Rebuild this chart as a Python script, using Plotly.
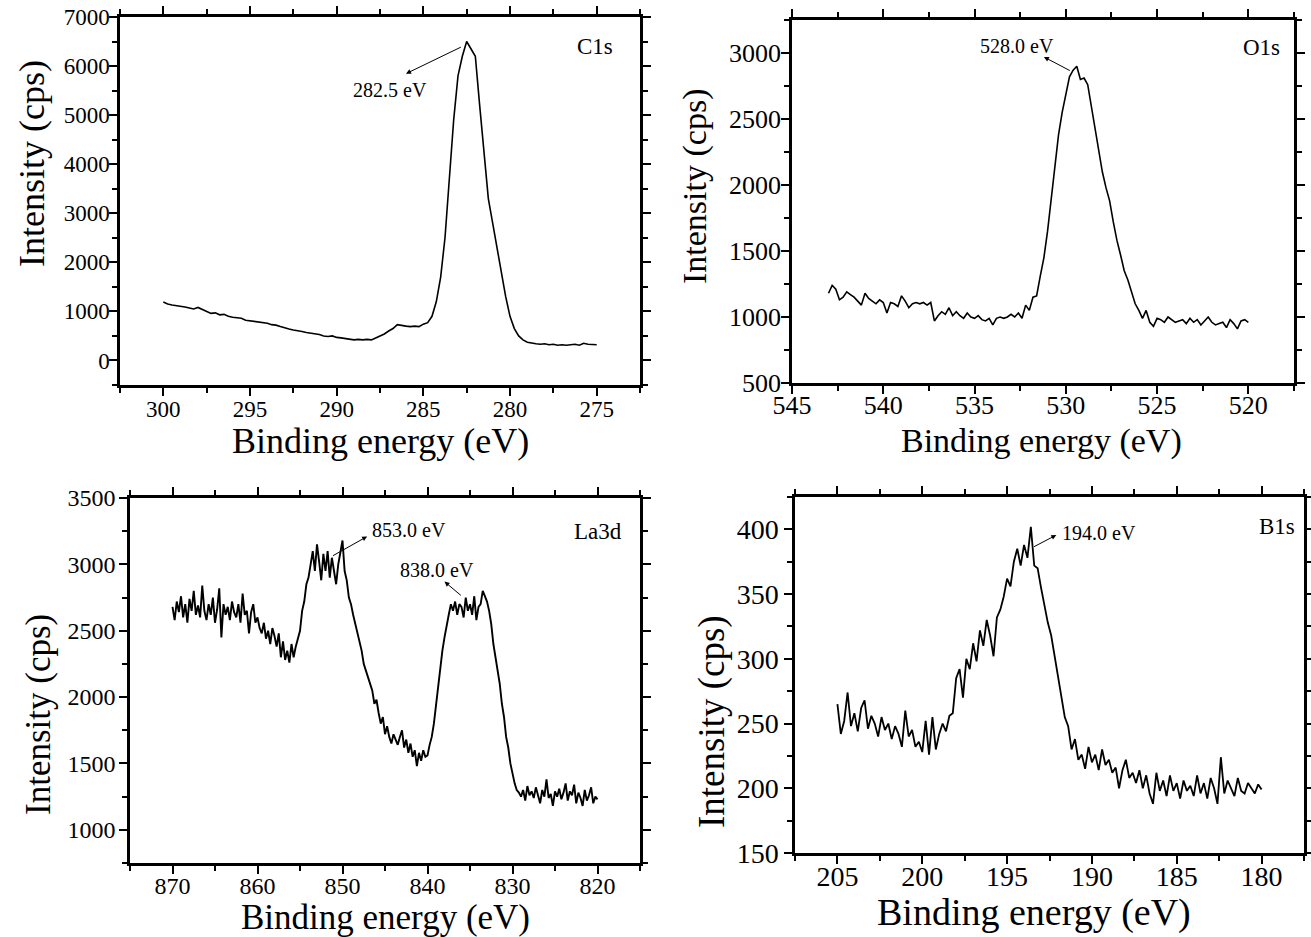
import numpy as np
import plotly.graph_objects as go

# ---------------- data ----------------
# C1s: 300 -> 275 eV
c1s_start, c1s_end = 300.0, 275.0
c1s_y = [1190, 1150, 1130, 1120, 1110, 1090, 1070, 1050, 1080, 1040, 990, 960, 970,
         930, 940, 900, 880, 870, 860, 820, 810, 800, 780, 770, 760, 730, 720, 690,
         660, 640, 620, 610, 590, 570, 560, 540, 530, 500, 490, 500, 470, 460, 450,
         440, 420, 430, 420, 430, 420, 460, 500, 540, 600, 650, 730, 710, 700, 690,
         700, 690, 740, 770, 900, 1200, 1700, 2500, 3700, 4900, 5800, 6200, 6500,
         6350, 6200, 5200, 4200, 3300, 2800, 2300, 1800, 1300, 900, 650, 500, 420,
         370, 350, 340, 330, 340, 320, 330, 310, 320, 310, 320, 330, 310, 350, 330,
         320, 320]

# O1s: 543 -> 520 eV
o1s_start, o1s_end = 543.0, 520.0
o1s_y = [1180, 1240, 1210, 1130, 1150, 1190, 1170, 1150, 1120, 1090, 1180, 1140,
         1120, 1100, 1130, 1110, 1030, 1110, 1100, 1080, 1160, 1120, 1070, 1100,
         1110, 1100, 1110, 1090, 1110, 970, 1010, 1040, 1020, 1070, 1010, 1040,
         1010, 990, 1030, 1000, 990, 1010, 980, 970, 990, 940, 990, 1000, 990, 1000,
         1020, 1000, 1030, 990, 1090, 1050, 1150, 1160, 1310, 1450, 1650, 1900, 2100,
         2380, 2550, 2700, 2820, 2870, 2900, 2800, 2810, 2760, 2600, 2430, 2250,
         2100, 1980, 1880, 1720, 1580, 1470, 1350, 1280, 1180, 1100, 1050, 990,
         1050, 960, 930, 990, 980, 960, 1000, 980, 960, 970, 980, 950, 990, 960, 980,
         940, 970, 1000, 960, 940, 950, 960, 920, 980, 950, 910, 970, 980, 960]

# La3d: 870 -> 820 eV
la3d_start, la3d_end = 870.0, 820.0
la3d_y = [2680, 2580, 2720, 2640, 2760, 2600, 2700, 2560, 2740, 2650, 2800, 2620, 2690,
          2600, 2840, 2650, 2580, 2700, 2620, 2750, 2560, 2660, 2820, 2450, 2700,
          2620, 2680, 2580, 2720, 2640, 2600, 2700, 2560, 2780, 2620, 2650, 2480,
          2640, 2700, 2560, 2600, 2520, 2480, 2560, 2440, 2500, 2400, 2520, 2460,
          2380, 2480, 2300, 2420, 2280, 2350, 2260, 2400, 2300, 2380, 2450, 2500,
          2650, 2720, 2850, 2900, 3000, 3100, 2950, 3150, 3020, 2880, 3080, 2950,
          3100, 2900, 3050, 2950, 2850, 3000, 3080, 3180, 2950, 2880, 2750, 2700,
          2620, 2550, 2480, 2400, 2350, 2250, 2200, 2150, 2100, 2050, 1950, 1980,
          1880, 1800, 1850, 1720, 1780, 1700, 1650, 1720, 1680, 1640, 1700, 1750,
          1620, 1680, 1580, 1650, 1550, 1600, 1480, 1580, 1520, 1600, 1550, 1560,
          1640, 1700, 1800, 1950, 2050, 2200, 2350, 2450, 2550, 2620, 2700, 2650,
          2720, 2620, 2700, 2680, 2600, 2750, 2650, 2700, 2620, 2760, 2580, 2680,
          2700, 2800, 2760, 2720, 2650, 2550, 2400, 2300, 2200, 2100, 1950, 1850,
          1700, 1620, 1500, 1420, 1350, 1300, 1280, 1250, 1300, 1220, 1330, 1260,
          1290, 1240, 1320, 1260, 1200, 1300, 1250, 1380, 1240, 1270, 1180, 1290,
          1250, 1310, 1230, 1280, 1350, 1220, 1290, 1260, 1340, 1200, 1280, 1240,
          1180, 1300, 1220, 1260, 1320, 1200, 1250, 1230]

# B1s: 205 -> 180 eV
b1s_start, b1s_end = 205.0, 180.0
b1s_y = [265, 242, 252, 274, 248, 258, 244, 262, 268, 246, 256, 250, 240, 255, 245,
         250, 238, 248, 242, 232, 260, 240, 245, 232, 236, 228, 252, 226, 255, 230,
         242, 250, 244, 256, 258, 285, 292, 270, 300, 292, 312, 298, 322, 310, 330,
         318, 302, 332, 338, 348, 362, 356, 375, 385, 372, 388, 378, 402, 372, 370,
         355, 340, 328, 318, 302, 285, 272, 255, 248, 230, 238, 222, 226, 215, 232,
         220, 226, 214, 230, 218, 222, 212, 216, 200, 214, 222, 208, 212, 204, 214,
         200, 210, 196, 188, 212, 198, 206, 194, 210, 198, 204, 192, 206, 198, 202,
         194, 210, 196, 204, 192, 208, 200, 188, 224, 196, 206, 200, 194, 208, 198,
         196, 204, 200, 196, 203, 199]

panel_labels = ["C1s", "O1s", "La3d", "B1s"]
peak_labels = ["282.5 eV", "528.0 eV", "853.0 eV", "838.0 eV", "194.0 eV"]
x_title = "Binding energy (eV)"
y_title = "Intensity (cps)"

W, H = 1311, 937
FONT = "Liberation Serif"


def px(x):
    return x / W


def py(y):
    return 1 - y / H


fig = go.Figure()

spectra = [
    (c1s_start, c1s_end, c1s_y, "x", "y"),
    (o1s_start, o1s_end, o1s_y, "x2", "y2"),
    (la3d_start, la3d_end, la3d_y, "x3", "y3"),
    (b1s_start, b1s_end, b1s_y, "x4", "y4"),
]
widths = [1.6, 1.6, 1.9, 1.8]
for (s, e, yy, xa, ya), lw in zip(spectra, widths):
    xx = np.linspace(s, e, len(yy))
    fig.add_trace(go.Scatter(x=xx, y=yy, mode="lines", xaxis=xa, yaxis=ya,
                             line=dict(color="black", width=lw), showlegend=False))

# panel geometry in pixels: (left, right, top, bottom)
boxes = [(120, 640, 17, 385), (792, 1294, 20, 383), (130, 640, 498, 863), (795, 1304, 497, 853)]
xranges = [[302.5, 272.5], [545, 517.5], [875, 815], [207.5, 177.5]]
yranges = [[-500, 7000], [500, 3250], [750, 3500], [150, 425]]
xd = [5, 5, 10, 5]
yd = [1000, 500, 500, 50]
tickfs = [23, 26, 24, 28]
x_standoff = [-6, -11, -9, -11]
y_standoff = [-5, -5, -1, 0]

layout = dict(width=W, height=H, margin=dict(l=0, r=0, t=0, b=0, autoexpand=False),
              paper_bgcolor="white", plot_bgcolor="white",
              font=dict(family=FONT, color="black"))
for i in range(4):
    l, r, t, b = boxes[i]
    sx = "" if i == 0 else str(i + 1)
    axcommon = dict(showgrid=False, zeroline=False, showline=True, linecolor="black",
                    linewidth=2.5, mirror="allticks", ticks="outside", ticklen=8,
                    tickwidth=2, tickcolor="black", automargin=False,
                    tickfont=dict(family=FONT, size=tickfs[i], color="black"))
    layout["xaxis" + sx] = dict(domain=[px(l), px(r)], range=xranges[i], dtick=xd[i], tick0=0,
                                anchor="y" + sx, ticklabelstandoff=x_standoff[i],
                                minor=dict(dtick=xd[i] / 2, tick0=0, ticks="outside", ticklen=5,
                                           tickwidth=2, tickcolor="black"),
                                **axcommon)
    layout["yaxis" + sx] = dict(domain=[py(b), py(t)], range=yranges[i], dtick=yd[i], tick0=0,
                                anchor="x" + sx, ticklabelstandoff=y_standoff[i],
                                minor=dict(dtick=yd[i] / 2, tick0=0, ticks="outside", ticklen=5,
                                           tickwidth=2, tickcolor="black"),
                                **axcommon)
fig.update_layout(**layout)

ann = []
# axis titles
xt = [(380, 441, 36), (1041, 441, 34), (385, 917, 35), (1034, 912, 38)]
yt = [(32, 164, 36), (695, 187, 34), (38, 715, 35), (712, 722, 37)]
for (x, y, f) in xt:
    ann.append(dict(x=px(x), y=py(y), xref="paper", yref="paper", text=x_title, showarrow=False,
                    font=dict(family=FONT, size=f, color="black"), xanchor="center", yanchor="middle"))
for (x, y, f) in yt:
    ann.append(dict(x=px(x), y=py(y), xref="paper", yref="paper", text=y_title, showarrow=False,
                    textangle=-90, font=dict(family=FONT, size=f, color="black"),
                    xanchor="center", yanchor="middle"))

# panel labels (data coordinates)
lab_pos = [("x", "y", 275.1, 6400), ("x2", "y2", 519.3, 3040),
           ("x3", "y3", 819.9, 3250), ("x4", "y4", 179.1, 402)]
for (xa, ya, x, y), t in zip(lab_pos, panel_labels):
    ann.append(dict(x=x, y=y, xref=xa, yref=ya, text=t, showarrow=False,
                    font=dict(family=FONT, size=23, color="black")))

# peak labels (data coordinates)
peak_text = [("x", "y", 286.9, 5520, peak_labels[0]),
             ("x2", "y2", 532.7, 3050, peak_labels[1]),
             ("x3", "y3", 842.2, 3260, peak_labels[2]),
             ("x3", "y3", 838.85, 2958, peak_labels[3]),
             ("x4", "y4", 189.6, 397, peak_labels[4])]
for xa, ya, x, y, t in peak_text:
    ann.append(dict(x=x, y=y, xref=xa, yref=ya, text=t, showarrow=False,
                    font=dict(family=FONT, size=20, color="black")))
# arrows: (tail x, tail y) -> (head x, head y)
arrows = [("x", "y", 282.75, 6400, 286.0, 5845),
          ("x2", "y2", 529.7, 2861, 531.2, 2970),
          ("x3", "y3", 851.3, 3059, 847.1, 3210),
          ("x3", "y3", 835.9, 2757, 838.0, 2870),
          ("x4", "y4", 193.5, 386, 192.1, 395.6)]
for xa, ya, tx, ty, hx, hy in arrows:
    ann.append(dict(x=hx, y=hy, ax=tx, ay=ty, xref=xa, yref=ya, axref=xa, ayref=ya, text="",
                    showarrow=True, arrowhead=2, arrowsize=1, arrowwidth=1, arrowcolor="black",
                    standoff=0, startstandoff=0))
fig.update_layout(annotations=ann)

fig.write_html("out.html", config={"displayModeBar": False},
               post_script="document.body.style.margin='0';document.body.style.overflow='hidden';")
